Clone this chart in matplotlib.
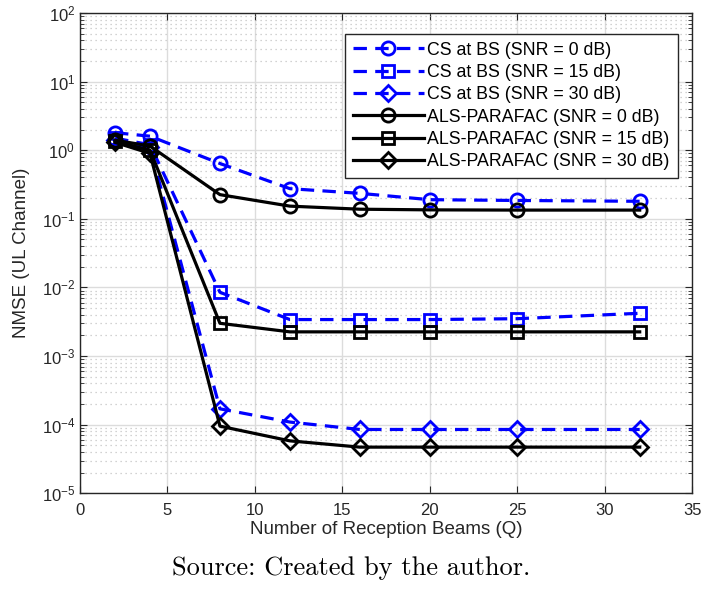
import matplotlib
matplotlib.use("Agg")
import matplotlib.pyplot as plt
from matplotlib.ticker import LogLocator, NullFormatter, MultipleLocator

plt.rcParams['font.family'] = ['Liberation Sans', 'DejaVu Sans']
plt.rcParams['mathtext.default'] = 'regular'

beams = [2, 4, 8, 12, 16, 20, 25, 32]

cs_0db = [1.8, 1.6, 0.64, 0.275, 0.235, 0.19, 0.185, 0.18]
cs_15db = [1.5, 1.2, 0.0085, 0.0034, 0.0034, 0.0034, 0.0035, 0.0042]
cs_30db = [1.4, 1.1, 1.7e-4, 1.09e-4, 8.5e-5, 8.5e-5, 8.5e-5, 8.5e-5]
als_0db = [1.4, 1.15, 0.225, 0.153, 0.138, 0.135, 0.134, 0.134]
als_15db = [1.35, 1.0, 0.0030, 0.00225, 0.00225, 0.00225, 0.00225, 0.00225]
als_30db = [1.3, 0.9, 9.5e-5, 5.8e-5, 4.7e-5, 4.7e-5, 4.7e-5, 4.7e-5]

labels = [
    'CS at BS (SNR = 0 dB)', 'CS at BS (SNR = 15 dB)', 'CS at BS (SNR = 30 dB)',
    'ALS-PARAFAC (SNR = 0 dB)', 'ALS-PARAFAC (SNR = 15 dB)', 'ALS-PARAFAC (SNR = 30 dB)',
]

fig = plt.figure(figsize=(7.02, 5.90), dpi=100)
ax = fig.add_axes([0.114, 0.164, 0.872, 0.814])

blue = '#0000ff'
common = dict(linewidth=2.3, markeredgewidth=2.0, markerfacecolor='none')
dash = (0, (4.2, 2.6))
ax.plot(beams, cs_0db, color=blue, linestyle=dash, marker='o', markersize=9.5, label=labels[0], **common)
ax.plot(beams, cs_15db, color=blue, linestyle=dash, marker='s', markersize=8.5, label=labels[1], **common)
ax.plot(beams, cs_30db, color=blue, linestyle=dash, marker='D', markersize=8.5, label=labels[2], **common)
ax.plot(beams, als_0db, color='black', linestyle='-', marker='o', markersize=9.5, label=labels[3], **common)
ax.plot(beams, als_15db, color='black', linestyle='-', marker='s', markersize=8.5, label=labels[4], **common)
ax.plot(beams, als_30db, color='black', linestyle='-', marker='D', markersize=8.5, label=labels[5], **common)

ax.set_yscale('log')
ax.set_xlim(0, 35)
ax.set_ylim(1e-5, 1e2)
ax.xaxis.set_major_locator(MultipleLocator(5))
ax.yaxis.set_major_locator(LogLocator(base=10, numticks=10))
ax.yaxis.set_minor_locator(LogLocator(base=10, subs=range(2, 10), numticks=100))
ax.yaxis.set_minor_formatter(NullFormatter())

ax.grid(True, which='major', color='#dcdcdc', linewidth=1.0, linestyle='-')
ax.grid(True, which='minor', axis='y', color='#c4c4c4', linewidth=0.9, linestyle=(0, (1, 3)))
ax.set_axisbelow(True)

ax.tick_params(axis='both', which='major', labelsize=12, direction='in', length=5,
               color='#262626', labelcolor='#262626', top=True, right=True)
ax.tick_params(axis='y', which='minor', direction='in', length=3, color='#262626', right=True)
ax.tick_params(axis='x', which='major', pad=7)
for sp in ax.spines.values():
    sp.set_color('#262626')
    sp.set_linewidth(1.0)

ax.set_xlabel('Number of Reception Beams (Q)', fontsize=13.5, color='#262626', labelpad=2)
ax.set_ylabel('NMSE (UL Channel)', fontsize=13.5, color='#262626', labelpad=8)

leg = ax.legend(loc='upper right', bbox_to_anchor=(0.985, 0.968), fontsize=12.8,
                handlelength=4.0, handletextpad=0.2, borderpad=0.45, labelspacing=0.3,
                borderaxespad=0.3, fancybox=False, framealpha=1.0, edgecolor='#262626')
leg.get_frame().set_linewidth(1.0)

fig.text(0.5, 0.037, 'Source: Created by the author.', ha='center', va='center',
         fontsize=19, family='cmr10')

fig.savefig('out.png', dpi=100)
